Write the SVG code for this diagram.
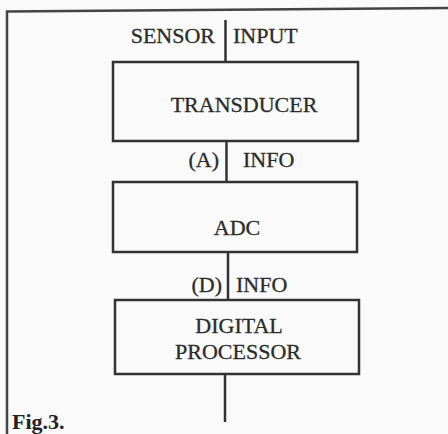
<svg xmlns="http://www.w3.org/2000/svg" width="448" height="434" viewBox="0 0 448 434">
  <style>
    .box { fill: none; stroke: #333; stroke-width: 2.5; }
    .wire { stroke: #333; stroke-width: 2.5; fill: none; }
    .frame { stroke: #444; stroke-width: 2.5; fill: none; }
    .t { font-family: "Liberation Serif", "Times New Roman", serif; font-size: 22px; fill: #2b2b2b; stroke: #2b2b2b; stroke-width: 0.3; }
    .mid { text-anchor: middle; }
    .end { text-anchor: end; }
    .fig { font-family: "Liberation Serif", "Times New Roman", serif; font-size: 22px; font-weight: bold; fill: #222; }
  </style>
  <rect width="448" height="434" fill="#fafafa"/>
  <g id="frame">
    <path class="frame" d="M7,434 L7,11.5 L448,8"/>
  </g>
  <g id="connectors">
    <line class="wire" x1="225.5" y1="20" x2="225.5" y2="62"/>
    <line class="wire" x1="226.5" y1="141" x2="226.5" y2="182"/>
    <line class="wire" x1="228" y1="252" x2="228" y2="300"/>
    <line class="wire" x1="225" y1="374" x2="225" y2="422"/>
    <text class="t end" x="215" y="43">SENSOR</text>
    <text class="t" x="233" y="43">INPUT</text>
    <text class="t end" x="219" y="167">(A)</text>
    <text class="t" x="243" y="167">INFO</text>
    <text class="t end" x="222" y="292">(D)</text>
    <text class="t" x="236" y="292">INFO</text>
  </g>
  <g id="transducer">
    <rect class="box" x="113" y="62" width="245" height="79"/>
    <text class="t mid" x="244" y="112" font-size="23">TRANSDUCER</text>
  </g>
  <g id="adc">
    <rect class="box" x="113" y="182" width="244" height="70"/>
    <text class="t mid" x="237" y="235" font-size="23">ADC</text>
  </g>
  <g id="digital-processor">
    <rect class="box" x="115" y="300" width="244" height="74"/>
    <text class="t mid" x="239" y="333">DIGITAL</text>
    <text class="t mid" x="238" y="359">PROCESSOR</text>
  </g>
  <g id="caption">
    <text class="fig" x="12" y="429">Fig.3.</text>
  </g>
</svg>
